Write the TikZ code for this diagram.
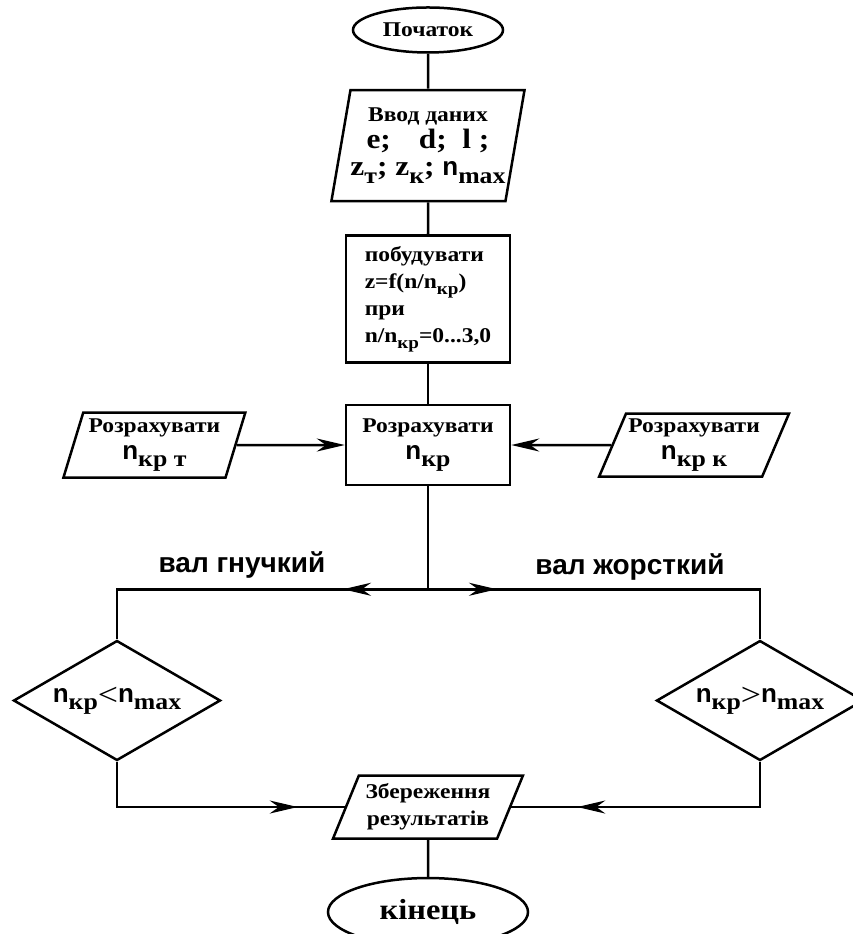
\documentclass[tikz,border=0pt]{standalone}
\usepackage{fontspec}
\setmainfont[FakeStretch=1.12]{Liberation Serif}
\setsansfont{Liberation Sans}
\usetikzlibrary{positioning,shapes.geometric,arrows.meta,decorations.markings}

\newcommand{\bign}{{\sffamily\fontsize{26}{30}\selectfont n}}
\newcommand{\lowtxt}[2][23]{\raisebox{-0.3em}{\fontsize{#1}{#1}\selectfont #2}}
\newcommand{\thinrel}[1]{\raisebox{-0.12em}{\mdseries\fontsize{32}{32}\selectfont #1}}
\newcommand{\txtsmall}{\fontsize{21}{27}\selectfont}
\newcommand{\txtbig}{\fontsize{28}{36}\selectfont}

\begin{document}
\begin{tikzpicture}[x=1pt,y=1pt,
    base/.style={draw,line width=2.5pt,font=\bfseries\txtsmall,align=center,inner sep=1pt},
    terminal/.style={base,ellipse},
    process/.style={base,rectangle},
    io/.style={base,trapezium,trapezium stretches=true,trapezium left angle=#1,trapezium right angle=180-#1},
    decision/.style={base,diamond,aspect=1.72,inner sep=0pt,minimum width=207pt,minimum height=120pt},
    line/.style={line width=2.5pt},
    flow/.style={line,-{Stealth[length=28pt,width=13pt]}},
    midarrow/.style={line,postaction={decorate},decoration={markings,mark=at position #1 with {\arrow{Stealth[length=28pt,width=13pt]}}}},
    branchlabel/.style={font=\sffamily\bfseries\fontsize{28}{30}\selectfont,inner sep=0pt}]
  \useasboundingbox (0,0) rectangle (853,934);
  \node(start)[terminal,minimum width=150pt,minimum height=45pt] at (428,904) {Початок};
  \node(input)[io=76,below=35pt of start,minimum width=193pt,minimum height=111pt,inner sep=0pt]{Ввод даних\\{\txtbig e;\quad d;\ \ l\ ;}\\{\txtbig z\lowtxt{т}; z\lowtxt{к}; \bign\lowtxt{max}}};
  \node(plan)[process,below=32pt of input,minimum width=164pt,minimum height=127pt,align=left]{побудувати\\ z=f(n/n\lowtxt[17]{кр})\\при\\n/n\lowtxt[17]{кр}=0...3,0};
  \node(calc)[process,below=40pt of plan,minimum width=164pt,minimum height=80pt]{Розрахувати\\\bign\lowtxt{кр}};
  \node(calcsoft)[io=71,left=108pt of calc,minimum width=182pt,minimum height=65pt]{Розрахувати\\\bign\lowtxt{кр т}};
  \node(calchard)[io=64,right=100pt of calc,minimum width=190pt,minimum height=63pt]{Розрахувати\\\bign\lowtxt{кр к}};
  \coordinate[below=103pt of calc](split);
  \node(lblsoft)[branchlabel] at ([xshift=-186pt,yshift=24pt]split) {вал гнучкий};
  \node(lblhard)[branchlabel] at ([xshift=202pt,yshift=22pt]split) {вал жорсткий};
  \node(softtest)[decision,below=50pt of split,xshift=-311pt]{\bign\lowtxt{кр}\thinrel{<}\bign\lowtxt{max}};
  \node(hardtest)[decision,below=50pt of split,xshift=332pt]{\bign\lowtxt{кр}\thinrel{>}\bign\lowtxt{max}};
  \node(save)[io=64,below=185pt of split,minimum width=190pt,minimum height=63pt]{Збереження\\результатів};
  \node(finish)[terminal,below=37pt of save,minimum width=200pt,minimum height=68pt,font=\bfseries\fontsize{29}{32}\selectfont]{кінець};

  \draw[line] (start) -- (input);
  \draw[line] (input) -- (plan);
  \draw[line] (plan) -- (calc);
  \draw[flow] (calcsoft) -- (calc);
  \draw[flow] (calchard) -- (calc);
  \draw[line] (calc) -- (split);
  \draw[midarrow=85pt] (split) -| (softtest.north);
  \draw[midarrow=69pt] (split) -| (hardtest.north);
  \draw[midarrow=226pt] (softtest.south) |- (save.west);
  \draw[midarrow=228pt] (hardtest.south) |- (save.east);
  \draw[line] (save) -- (finish);
\end{tikzpicture}
\end{document}
